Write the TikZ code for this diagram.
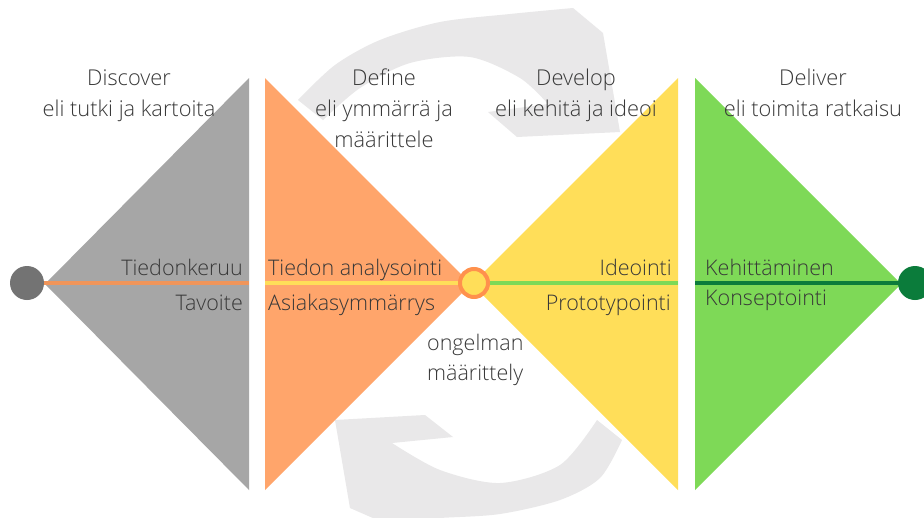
\documentclass[tikz,border=0pt]{standalone}
\usepackage{fontspec}
\setmainfont{Open Sans}[UprightFont={* Light}]
\definecolor{greytri}{HTML}{A6A6A6}
\definecolor{orangetri}{HTML}{FFA56B}
\definecolor{yellowtri}{HTML}{FFDE59}
\definecolor{greentri}{HTML}{7ED957}
\definecolor{arrowgrey}{HTML}{E9E8E9}
\definecolor{orangeline}{HTML}{F0955A}
\definecolor{darkgreen}{HTML}{0B7C3B}
\definecolor{ringorange}{HTML}{FF914D}
\definecolor{dotgrey}{HTML}{737373}
\definecolor{txt}{HTML}{383838}
\begin{document}
\begin{tikzpicture}[x=1pt,y=-1pt,
  tri/.style={draw=none},
  lbl/.style={font=\fontsize{21.5}{24}\selectfont, text=txt, inner sep=0pt},
  head/.style={font=\fontsize{21.8}{31}\selectfont, text=txt, inner sep=0pt, align=center, anchor=north},
  dot/.style={circle, inner sep=0pt, minimum size=34pt},
  conn/.style={line width=4pt}]
\useasboundingbox (0,0) rectangle (924,517);
\clip (0,0) rectangle (924,517);
\fill[white] (0,0) rectangle (924,517);
% background cycle arrows
\fill[arrowgrey] plot[smooth] coordinates {(298,100) (335,65) (380,40) (440,22) (510,14) (573,8)}
  -- (603,33) -- (620,132) -- (517,137) -- (488,112) -- (548,104)
  -- plot[smooth] coordinates {(548,104) (520,78) (470,57) (410,63) (360,88) (323,120)} -- cycle;
\fill[arrowgrey] (335,420) -- (425,415) -- (453,437) -- (392,443)
  -- plot[smooth] coordinates {(392,443) (440,470) (500,483) (560,465) (597,420)}
  -- (622,440)
  -- plot[smooth] coordinates {(622,440) (600,478) (560,500) (500,514) (440,518) (382,522)}
  -- (350,508) -- cycle;
% triangles
\fill[greytri] (249,78) -- (249,490) -- (45,284) -- cycle;
\fill[orangetri] (265,78) -- (265,490) -- (471,284) -- cycle;
\fill[yellowtri] (678,78) -- (678,490) -- (472,284) -- cycle;
\fill[greentri] (695,78) -- (695,490) -- (901,284) -- cycle;
% nodes on the axis
\node[dot, fill=dotgrey] (gdot) at (27,283) {};
\node[circle, inner sep=0pt, minimum size=28pt, draw=ringorange, line width=4pt, fill=yellowtri] (cdot) at (474,283) {};
\node[dot, fill=darkgreen] (rdot) at (915,283) {};
\coordinate (gend) at (249,283);
\coordinate (ostart) at (265,283);
\coordinate (yend) at (678,283);
\coordinate (gstart) at (695,283);
% connectors
\draw[conn, orangeline] (gdot) -- (gend);
\draw[conn, yellowtri] (ostart) -- (cdot);
\draw[conn, greentri] (cdot) -- (yend);
\draw[conn, darkgreen] (gstart) -- (rdot);
% headings
\node[head] (h1) at (129,69) {Discover\\eli tutki ja kartoita};
\node[head] (h2) at (384,69) {Define\\eli ymmärrä ja\\määrittele};
\node[head] (h3) at (576,69) {Develop\\eli kehitä ja ideoi};
\node[head] (h4) at (813,69) {Deliver\\eli toimita ratkaisu};
% labels
\node[lbl, anchor=base east] (l1) at (243,275) {Tiedonkeruu};
\node[lbl, anchor=base east] (l2) at (243,310) {Tavoite};
\node[lbl, anchor=base west] (l3) at (268,275) {Tiedon analysointi};
\node[lbl, anchor=base west] (l4) at (268,310) {Asiakasymmärrys};
\node[lbl, anchor=base east] (l5) at (672,275) {Ideointi};
\node[lbl, anchor=base east] (l6) at (671,310) {Prototypointi};
\node[lbl, anchor=base west] (l7) at (705,275) {Kehittäminen};
\node[lbl, anchor=base west] (l8) at (705,305) {Konseptointi};
\node[lbl, anchor=base west] (l9) at (427,350) {ongelman};
\node[lbl, anchor=base west] (l10) at (427,380) {määrittely};
\end{tikzpicture}
\end{document}
